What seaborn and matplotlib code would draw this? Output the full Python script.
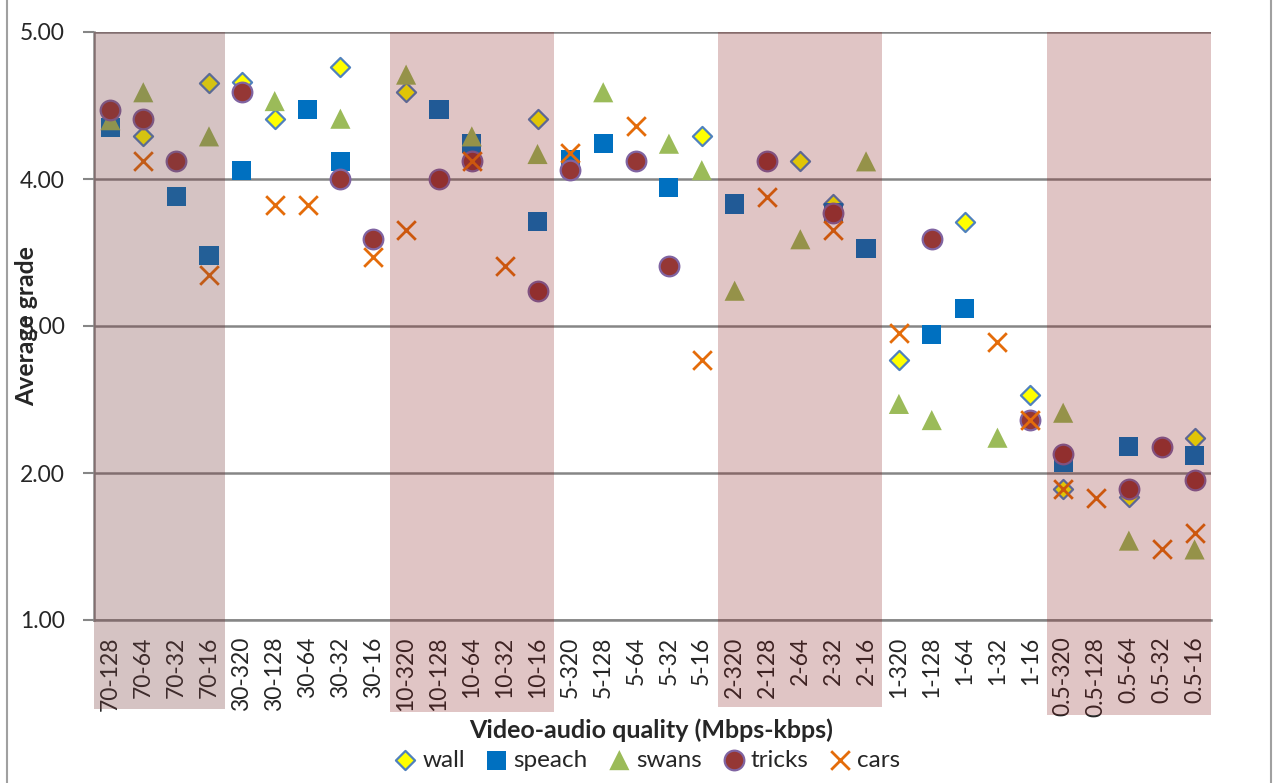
import numpy as np
import pandas as pd
import matplotlib
matplotlib.use("Agg")
import matplotlib.pyplot as plt
from matplotlib.patches import Rectangle
import seaborn as sns

categories = ['70-128', '70-64', '70-32', '70-16',
              '30-320', '30-128', '30-64', '30-32', '30-16',
              '10-320', '10-128', '10-64', '10-32', '10-16',
              '5-320', '5-128', '5-64', '5-32', '5-16',
              '2-320', '2-128', '2-64', '2-32', '2-16',
              '1-320', '1-128', '1-64', '1-32', '1-16',
              '0.5-320', '0.5-128', '0.5-64', '0.5-32', '0.5-16']
nan = np.nan
wall = [nan, 4.29, nan, 4.65, 4.66, 4.41, nan, 4.76, nan,
        4.59, nan, nan, nan, 4.41, nan, nan, nan, nan, 4.29,
        nan, nan, 4.12, 3.83, nan, 2.77, nan, 3.71, nan, 2.53,
        1.89, nan, 1.84, nan, 2.24]
speach = [4.35, nan, 3.88, 3.48, 4.06, nan, 4.47, 4.12, nan,
          nan, 4.47, 4.24, nan, 3.71, 4.13, 4.24, nan, 3.94, nan,
          3.83, nan, nan, 3.77, 3.53, nan, 2.94, 3.12, nan, nan,
          2.07, nan, 2.18, nan, 2.12]
swans = [4.40, 4.59, nan, 4.29, nan, 4.53, nan, 4.41, nan,
         4.71, nan, 4.29, nan, 4.17, nan, 4.59, nan, 4.24, 4.06,
         3.24, nan, 3.59, nan, 4.12, 2.47, 2.36, nan, 2.24, nan,
         2.41, nan, 1.54, nan, 1.48]
tricks = [4.47, 4.41, 4.12, nan, 4.59, nan, nan, 4.00, 3.59,
          nan, 4.00, 4.12, nan, 3.24, 4.06, nan, 4.12, 3.41, nan,
          nan, 4.12, nan, 3.77, nan, nan, 3.59, nan, nan, 2.36,
          2.13, nan, 1.89, 2.18, 1.95]
cars = [nan, 4.12, nan, 3.35, nan, 3.82, 3.82, nan, 3.47,
        3.65, nan, 4.12, 3.41, nan, 4.18, nan, 4.36, nan, 2.77,
        nan, 3.88, nan, 3.65, nan, 2.95, nan, nan, 2.89, 2.36,
        1.89, 1.83, nan, 1.48, 1.59]

# shaded groups: (first index, last index)
bands = [(0, 3), (9, 13), (19, 23), (29, 33)]

sns.set_style("white")
plt.rcParams['font.family'] = ['Lato', 'DejaVu Sans']

W, H = 1277, 783
fig = plt.figure(figsize=(W / 100, H / 100), dpi=100)
ax = fig.add_axes([94 / W, 1 - 620 / H, 1117 / W, 588 / H])

pos = np.arange(len(categories))
df = pd.DataFrame({'pos': pos, 'wall': wall, 'speach': speach,
                   'swans': swans, 'tricks': tricks, 'cars': cars})

styles = {
    'wall': dict(marker='D', s=95, color='#FFFF00', edgecolor='#4F81BD', linewidth=1.6),
    'speach': dict(marker='s', s=190, color='#0070C0', edgecolor='none', linewidth=0),
    'swans': dict(marker='^', s=210, color='#9BBB59', edgecolor='none', linewidth=0),
    'tricks': dict(marker='o', s=200, color='#953735', edgecolor='#8064A2', linewidth=1.6),
    'cars': dict(marker='x', s=180, color='#E46C0A', linewidth=2.0),
}
for name, st in styles.items():
    sns.scatterplot(data=df, x='pos', y=name, ax=ax, label=name, zorder=3, **st)

ax.set_xlim(-0.5, len(categories) - 0.5)
ax.set_ylim(1, 5)
ax.set_yticks([1, 2, 3, 4, 5])
ax.set_yticklabels([f"{v:.2f}" for v in [1, 2, 3, 4, 5]])
ax.set_xticks(pos)
ax.set_xticklabels(categories, rotation=90, va='top', ha='center')
ax.set_xticks(np.arange(len(categories) + 1) - 0.5, minor=True)
ax.tick_params(axis='x', which='major', length=0, pad=12, labelsize=16.5)
ax.tick_params(axis='x', which='minor', length=7, width=1.5, color='#868686', direction='out')
ax.tick_params(axis='y', which='major', length=8, width=1.5, color='#868686',
               direction='out', pad=13, labelsize=16.5, left=True)

ax.yaxis.grid(True, color='#868686', linewidth=1.8)
ax.set_axisbelow(True)
for s in ['top', 'right']:
    ax.spines[s].set_visible(False)
for s in ['left', 'bottom']:
    ax.spines[s].set_color('#868686')
    ax.spines[s].set_linewidth(1.8)

ax.set_ylabel('Average grade', fontsize=17.8, fontweight='bold')
ax.yaxis.set_label_coords(-0.050, 0.50)
ax.set_xlabel('Video-audio quality (Mbps-kbps)', fontsize=18, fontweight='bold')
ax.xaxis.set_label_coords(0.499, -0.168)
ax.yaxis.label.set_zorder(10)

# overlay bands (drawn over points and labels)
band_bottoms = [-0.151, -0.156, -0.148, -0.162]
tr = ax.get_xaxis_transform()
for k, ((a, b), yb) in enumerate(zip(bands, band_bottoms)):
    if k == 0:
        fc, al = '#76393a', 0.30
    else:
        fc, al = '#871b1b', 0.25
    ax.add_patch(Rectangle((a - 0.5, yb), b - a + 1, 1 - yb, transform=tr,
                           facecolor=fc, alpha=al, lw=0, clip_on=False, zorder=5))

handles, labels = ax.get_legend_handles_labels()
if ax.get_legend():
    ax.get_legend().remove()
fig.legend(handles, labels, loc='center', bbox_to_anchor=(645.5 / W, 1 - 760 / H),
           ncol=5, frameon=False, fontsize=17.5, handletextpad=0.1,
           columnspacing=0.7, handlelength=1.2, borderpad=0)

# chart area border
fig.add_artist(Rectangle((7 / W, -0.01), 1264 / W, 1.02, transform=fig.transFigure,
                         facecolor='none', edgecolor='#a0a0a0', lw=1.5, clip_on=False))

fig.savefig('out.png', dpi=100)
